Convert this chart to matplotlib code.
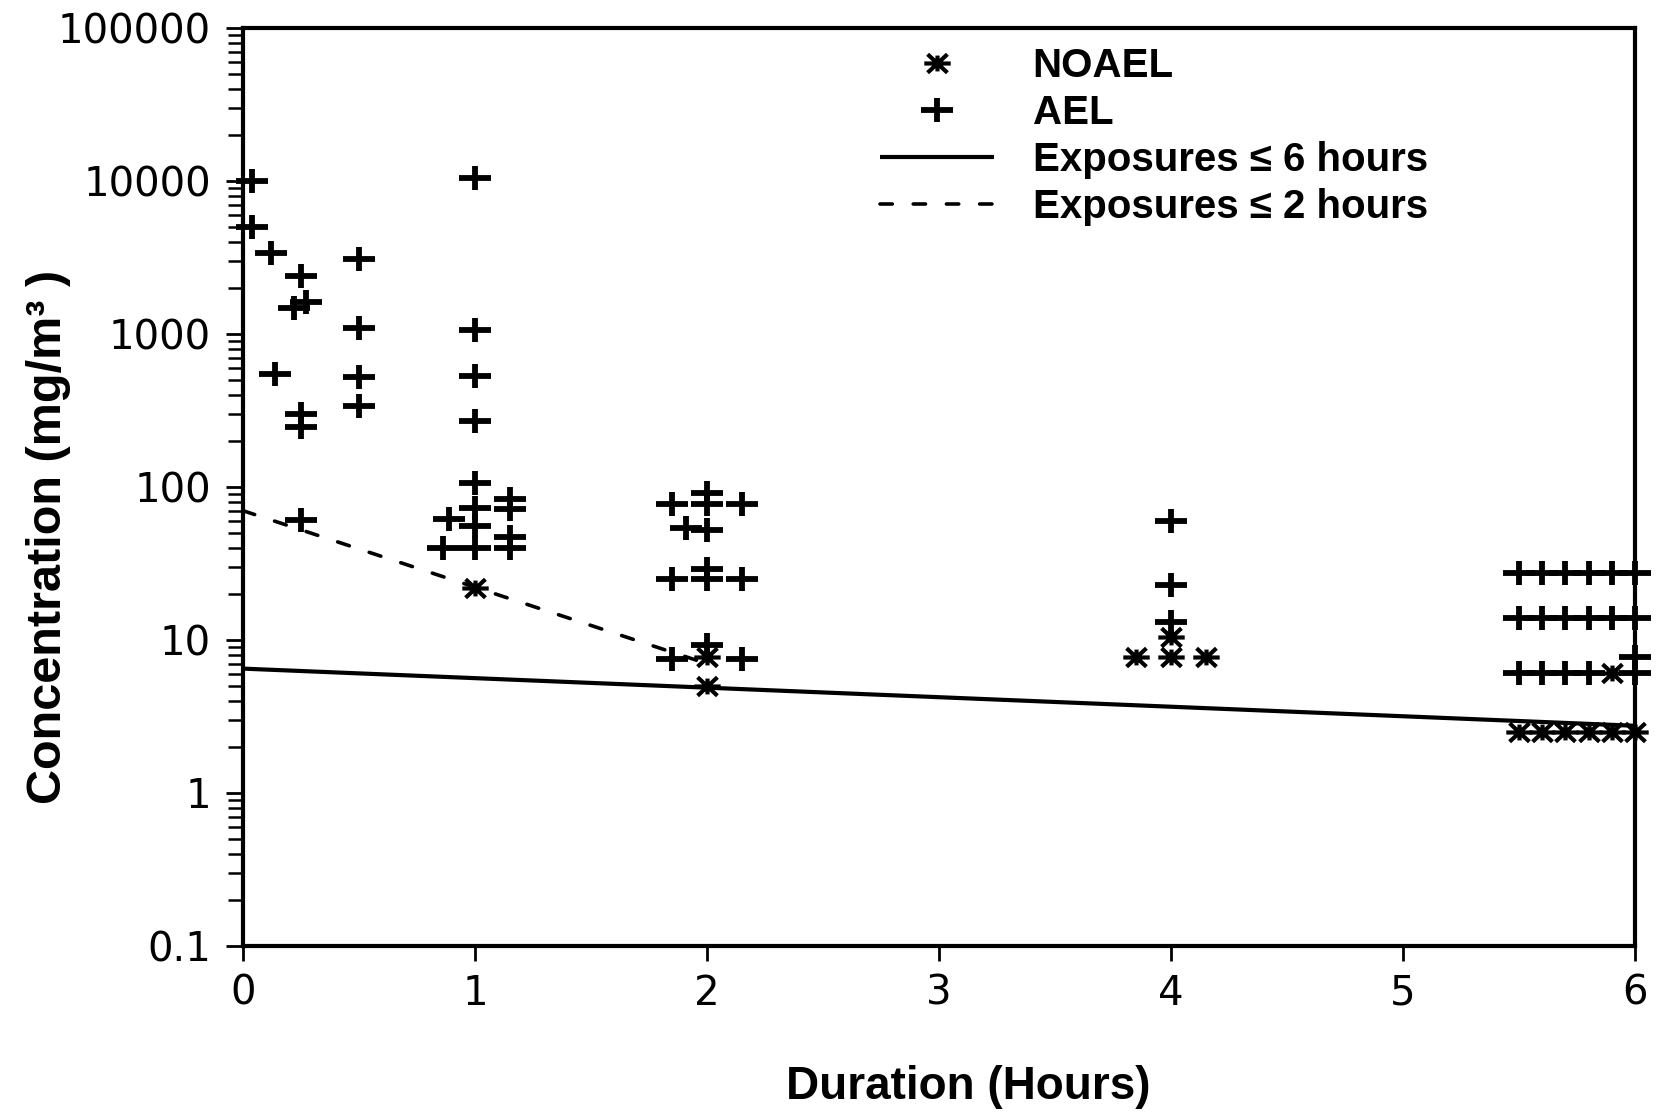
import matplotlib
matplotlib.use("Agg")
import matplotlib.pyplot as plt
from matplotlib.path import Path
from matplotlib.ticker import FixedLocator, FixedFormatter, LogLocator, NullFormatter

# AEL (adverse effect level) points: duration (h), concentration (mg/m3)
ael_hours = [
    0.04, 0.04, 0.12, 0.25, 0.22, 0.27, 0.14, 0.25, 0.25, 0.25,
    0.5, 0.5, 0.5, 0.5,
    1.0, 1.0, 1.0, 1.0, 1.0, 1.0, 1.0, 1.0, 0.89, 0.86, 1.15, 1.15, 1.15, 1.15,
    1.85, 2.0, 2.0, 2.15, 1.91, 2.0, 1.85, 2.0, 2.0, 2.15, 1.85, 2.0, 2.15,
    4.0, 4.0, 4.0,
    5.5, 5.6, 5.7, 5.8, 5.9, 6.0,
    5.5, 5.6, 5.7, 5.8, 5.9, 6.0,
    5.5, 5.6, 5.7, 5.8, 6.0, 6.0,
]
ael_conc = [
    10000, 5000, 3400, 2400, 1470, 1630, 550, 300, 245, 61,
    3080, 1100, 520, 340,
    10500, 1060, 530, 270, 107, 73, 56, 40, 62, 40, 84, 72, 47, 40,
    78, 91, 78, 78, 54, 52, 25, 29, 25, 25, 7.5, 9.3, 7.5,
    60, 23, 13.2,
    27.5, 27.5, 27.5, 27.5, 27.5, 27.5,
    13.9, 13.9, 13.9, 13.9, 13.9, 13.9,
    6.05, 6.05, 6.05, 6.05, 6.05, 7.8,
]

# NOAEL points
noael_hours = [1.0, 2.0, 2.0, 3.85, 4.0, 4.0, 4.15, 5.9,
               5.5, 5.6, 5.7, 5.8, 5.9, 6.0]
noael_conc = [22, 7.8, 5.0, 7.8, 10.5, 7.8, 7.8, 6.05,
              2.5, 2.5, 2.5, 2.5, 2.5, 2.5]

# regression lines (end points)
line6_hours = [0, 6]
line6_conc = [6.5, 2.75]
line2_hours = [0, 2]
line2_conc = [70, 7.0]

y_ticks = [0.1, 1, 10, 100, 1000, 10000, 100000]
y_tick_labels = ["0.1", "1", "10", "100", "1000", "10000", "100000"]
x_ticks = [0, 1, 2, 3, 4, 5, 6]

label_font = ["Liberation Sans", "DejaVu Sans"]

# wide plus and an 8-arm asterisk like the original plotter glyphs
plus_marker = Path([(-1.35, 0), (1.35, 0), (0, -1), (0, 1)],
                   [Path.MOVETO, Path.LINETO, Path.MOVETO, Path.LINETO])
star_marker = Path([(-1, 0), (1, 0), (-0.75, -0.7), (0.75, 0.7),
                    (-0.75, 0.7), (0.75, -0.7), (0, -0.6), (0, 0.6)],
                   [Path.MOVETO, Path.LINETO] * 4)

fig = plt.figure(figsize=(16.58, 11.2), dpi=100)
ax = fig.add_axes([0.14656, 0.15536, 0.83957, 0.81964])
ax.set_yscale("log")
ax.set_xlim(0, 6)
ax.set_ylim(0.1, 100000)

ax.plot(line6_hours, line6_conc, color="black", lw=3, solid_capstyle="butt",
        label="Exposures \u2264 6 hours")
ax.plot(line2_hours, line2_conc, color="black", lw=2.6, dashes=(3.4, 5.8),
        dash_capstyle="round", label="Exposures \u2264 2 hours")
ax.plot(noael_hours, noael_conc, ls="none", marker=star_marker, ms=19,
        mew=3.0, mec="black", color="black", clip_on=False, label="NOAEL")
ax.plot(ael_hours, ael_conc, ls="none", marker=plus_marker, ms=23,
        mew=4.2, mec="black", color="black", clip_on=False, label="AEL")

for s in ax.spines.values():
    s.set_linewidth(3)

ax.yaxis.set_major_locator(FixedLocator(y_ticks))
ax.yaxis.set_major_formatter(FixedFormatter(y_tick_labels))
ax.yaxis.set_minor_locator(LogLocator(base=10, subs=range(2, 10), numticks=20))
ax.yaxis.set_minor_formatter(NullFormatter())
ax.set_xticks(x_ticks)
ax.set_xticklabels([str(v) for v in x_ticks])

ax.tick_params(axis="y", which="major", direction="out", length=12, width=2,
               pad=11, labelsize=29)
ax.tick_params(axis="y", which="minor", direction="out", length=11, width=1.8)
ax.tick_params(axis="x", which="major", direction="out", length=11, width=2,
               pad=9, labelsize=29)

handles, labels = ax.get_legend_handles_labels()
order = [2, 3, 0, 1]
leg = fig.legend([handles[i] for i in order], [labels[i] for i in order],
                 loc="upper left", bbox_to_anchor=(0.5305, 0.958),
                 frameon=False, handlelength=2.85, handletextpad=0.95,
                 labelspacing=0.22, borderpad=0, borderaxespad=0,
                 prop={"family": label_font, "weight": "bold", "size": 29})

fig.text(0.584, 0.0295, "Duration (Hours)", ha="center", va="center",
         family=label_font, weight="bold", fontsize=33)
fig.text(0.029, 0.521, "Concentration (mg/m\u00b3 )", ha="center", va="center",
         rotation=90, family=label_font, weight="bold", fontsize=35)

fig.savefig("out.png", dpi=100)
